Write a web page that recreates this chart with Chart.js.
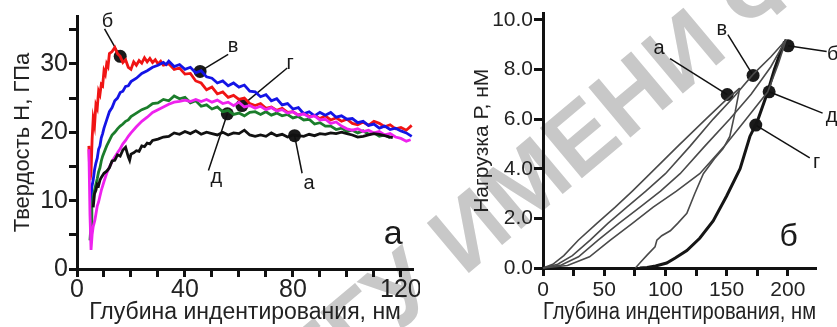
<!DOCTYPE html>
<html>
<head>
<meta charset="utf-8">
<script src="https://cdn.jsdelivr.net/npm/chart.js@4.4.1/dist/chart.umd.min.js"></script>
<style>
html, body { margin: 0; padding: 0; background: #fff; overflow: hidden; }
#wrap { position: relative; width: 837px; height: 327px; overflow: hidden; }
#wm { position: absolute; left: 464px; top: 277px; width: 0; height: 0; transform: rotate(-40deg); transform-origin: 0 0; z-index: 0; }
#wm span { position: absolute; top: -80px; font: bold 95px 'Liberation Sans', Arial, sans-serif; line-height: 95px; color: #c8c8c8; white-space: nowrap; }
#wm .pre { right: 0; }
#wm .post { left: 0; }
canvas { position: absolute; top: 0; z-index: 1; }
#hardness { left: 0; }
#loading { left: 420px; }
</style>
</head>
<body>
<div id="wrap">
  <div id="wm"><span class="pre">РЕПОЗИТОРИЙ ГГУ&nbsp;</span><span class="post">ИМЕНИ Ф. СКОРИНЫ</span></div>
  <canvas id="hardness" width="420" height="327" style="width:420px;height:327px"></canvas>
  <canvas id="loading" width="417" height="327" style="width:417px;height:327px"></canvas>
</div>
<script>
// ---- панель а: твердость от глубины ----
const depthA = [6, 6.5, 7, 7.5, 8, 8.5, 9, 10, 11, 12, 13, 14, 15, 16, 17, 18, 19, 19.5, 20, 21, 22, 23, 24, 25, 26, 27, 28, 30, 32, 34, 36, 38, 40, 42, 44, 46, 48, 50, 52, 54, 56, 58, 60, 62, 64, 66, 68, 70, 72, 74, 76, 78, 80, 82, 84, 86, 88, 90, 92, 94, 96, 98, 100, 102, 104, 106, 108, 110, 112, 114, 116, 117];
const hardA = [9, 11, 11.5, 12.4, 12.2, 13, 13.4, 14, 14.3, 14.8, 15.8, 15.9, 16.7, 16.5, 17.4, 17.8, 16.4, 15.9, 16.8, 17, 17.3, 17.2, 18, 17.9, 18.4, 18.3, 18.8, 19, 19.3, 19.4, 19.9, 19.7, 20.1, 19.8, 20.2, 19.7, 20, 19.8, 19.6, 20, 19.6, 19.9, 19.8, 20.3, 19.6, 19.4, 19.6, 19.4, 19.9, 19.5, 19.7, 19.3, 19.6, 19.5, 19.4, 19.7, 19.5, 19.8, 19.7, 19.9, 19.8, 20, 19.8, 19.6, 19.3, 19.4, 19.6, 19.8, 19.7, 19.5, 19.3, 19.2];

const depthB = [4.4, 4.8, 5.2, 5.6, 6, 6.5, 7, 7.5, 8, 8.5, 9, 9.5, 10, 10.5, 11, 11.5, 12, 13, 14, 15, 16, 17, 18, 19, 20, 21, 22, 23, 24, 25, 26, 27, 28, 29, 30, 31, 32, 34, 36, 38, 40, 42, 44, 46, 48, 50, 52, 54, 56, 58, 60, 62, 64, 66, 68, 70, 72, 74, 76, 78, 80, 82, 84, 86, 88, 90, 92, 94, 96, 98, 100, 102, 104, 106, 108, 110, 112, 114, 116, 118, 120, 122, 124];
const hardB = [18, 13, 14, 19, 22, 21, 24, 23.5, 26, 25.5, 27, 26.8, 29, 28.5, 30, 29.6, 31.5, 31.8, 32.4, 31.5, 31.1, 30.2, 30.6, 29.5, 29.2, 30.3, 29.8, 30.5, 30.1, 30.9, 30.3, 30.8, 30.2, 30.6, 30, 30.4, 29.8, 30, 29.2, 29.4, 28.5, 28.6, 27.5, 27.2, 26.2, 26.6, 25.6, 25.9, 25.1, 25.4, 24.8, 25, 24.2, 23.9, 24.2, 23.5, 23.7, 23.2, 23.5, 22.9, 23, 22.5, 22.8, 22.3, 22.5, 22, 22.4, 21.8, 22.1, 21.6, 21.9, 21.3, 21.1, 21.5, 21, 21.6, 21.3, 20.8, 21.1, 20.5, 20.7, 20.3, 21];

const depthV = [5, 5.5, 6, 6.5, 7, 7.5, 8, 8.5, 9, 9.5, 10, 11, 12, 13, 14, 15, 16, 17, 18, 19, 20, 22, 24, 26, 28, 30, 32, 33, 34, 36, 38, 40, 42, 44, 46, 48, 50, 52, 54, 56, 58, 60, 62, 64, 66, 68, 70, 72, 74, 76, 78, 80, 82, 84, 86, 88, 90, 92, 94, 96, 98, 100, 102, 104, 106, 108, 110, 112, 114, 116, 118, 120, 122, 124];
const hardV = [9, 12, 13, 14.5, 15.5, 16.2, 17.5, 18, 19.2, 19.8, 20.6, 21.8, 23, 23.6, 24.6, 25, 25.8, 26, 26.7, 26.8, 27.4, 27.9, 28.6, 29, 29.5, 29.8, 30.2, 29.9, 30.4, 29.6, 29.9, 29.2, 29.5, 28.7, 29, 28.1, 27.9, 27.2, 27.5, 26.8, 27.2, 26.6, 26.9, 26, 25.9, 25.2, 25.5, 24.6, 24.9, 24, 24.2, 23.4, 23.6, 22.7, 23, 22.4, 22.9, 22.5, 22.9, 22.2, 22.4, 21.9, 22, 21.4, 21.6, 21, 21.2, 20.6, 20.9, 20.4, 20.6, 20.2, 19.9, 19.4];

const depthG = [4.4, 4.8, 5.2, 5.6, 6, 6.6, 7, 7.5, 8, 8.4, 9, 10, 11, 12, 13, 14, 15, 16, 17, 18, 19, 20, 22, 24, 26, 28, 30, 32, 34, 36, 38, 40, 42, 44, 46, 48, 50, 52, 54, 56, 58, 60, 62, 64, 66, 68, 70, 72, 74, 76, 78, 80, 82, 84, 86, 88, 90, 92, 94, 96, 98, 100, 102, 104, 106, 108, 110, 112, 114, 116, 118, 120, 122, 123.6];
const hardG = [17.5, 8, 2.8, 5, 6.2, 7.1, 8, 9.2, 9.8, 10.5, 11.5, 12.8, 14, 14.9, 15.7, 16.4, 17, 17.6, 18.3, 18.8, 19.4, 19.9, 20.8, 21.6, 22.2, 22.9, 23.3, 23.7, 24.1, 24.4, 24.5, 24.7, 24.5, 24.8, 24.5, 24.8, 24.4, 24.7, 24.2, 24.4, 23.9, 24.4, 23.7, 23.9, 23.5, 23.8, 23.3, 23.6, 23.1, 23.3, 22.8, 23, 22.5, 22.7, 22.2, 22.4, 21.8, 21.9, 21.3, 21.5, 20.9, 20.5, 20.3, 20.5, 20.1, 20.3, 19.9, 20.1, 19.6, 19.8, 19.3, 19.1, 18.7, 18.9];

const depthD = [4.8, 5.2, 5.5, 6, 6.5, 7, 7.5, 8, 8.5, 9, 9.5, 10, 11, 12, 13, 14, 15, 16, 17, 18, 19, 20, 22, 24, 26, 28, 30, 32, 34, 36, 38, 40, 42, 44, 46, 48, 50, 52, 54, 56, 58, 60, 62, 64, 66, 68, 70, 72, 74, 76, 78, 80, 82, 84, 86, 88, 90, 92, 94, 96, 98, 100, 102, 104, 106, 108, 110, 112, 114, 116];
const hardD = [4.2, 6.5, 9, 10.5, 11.5, 12.4, 13.2, 14.2, 14.8, 15.8, 16.5, 17, 18, 18.8, 19.6, 20, 20.5, 20.9, 21.2, 21.6, 21.8, 22.3, 22.8, 23.3, 23.6, 24.2, 24.3, 24.8, 24.6, 25.3, 24.9, 25.1, 24.3, 24.6, 23.8, 24, 23.4, 23.7, 23, 23.2, 22.6, 22.8, 22.4, 22.9, 23, 22.6, 23, 22.5, 22.8, 22.4, 22.6, 22.1, 22.3, 21.8, 21.9, 21.2, 21.4, 20.9, 20.9, 20.4, 20.6, 20.1, 20.3, 19.9, 20.2, 19.7, 19.9, 19.4, 19.6, 19.2];

const hardTicksX = [0, 40, 80, 120];
const hardTicksY = [0, 10, 20, 30];
const hardMarkText = ['а', 'б', 'в', 'г', 'д'];
const hardMarkX = [80.6, 16, 45.6, 61.1, 55.7];
const hardMarkY = [19.5, 31.1, 28.9, 23.9, 22.7];
const hardLeadX = [83.4, 10.2, 56, 77.9, 48.7];
const hardLeadY = [14, 35.1, 31.4, 29.4, 14.4];
const hardLabelX = [86, 11.3, 57.8, 79, 51.6];
const hardLabelY = [12.5, 36.2, 32.6, 30.1, 13.4];

// ---- панель б: нагрузка от глубины ----
const loadDepthA = [0, 8, 17, 28.8, 44, 59, 73, 87.5, 110, 133, 148, 160.7];
const loadA = [0, 0.15, 0.5, 1.12, 1.8, 2.45, 3.1, 3.8, 4.9, 6.0, 6.7, 7.25];
const unloadDepthA = [160.7, 157, 152.6, 147, 140, 131, 124, 117.5, 110, 104, 97, 93, 91.5, 85, 80, 75.5];
const unloadA = [7.25, 6.3, 5.3, 4.8, 4.4, 3.8, 3.0, 2.2, 1.8, 1.5, 1.3, 1.12, 0.85, 0.52, 0.25, 0];
const loadDepthB = [0, 12, 24, 38.5, 53, 68.5, 84, 100, 120, 139, 156, 171.6, 186, 198.6];
const loadB = [0, 0.15, 0.5, 1.12, 1.8, 2.45, 3.1, 3.8, 4.9, 6.0, 6.9, 7.8, 8.5, 9.2];
const loadDepthV = [0, 15, 29, 45, 62, 79.3, 96, 112, 132, 152.6, 170, 186, 198.6];
const loadV = [0, 0.12, 0.45, 1.12, 1.8, 2.45, 3.1, 3.8, 4.9, 6.0, 7.0, 8.1, 9.2];
const loadDepthD = [0, 20, 38, 55, 73, 90, 109, 128, 148, 166, 183.6, 192, 198.6];
const loadD = [0, 0.1, 0.45, 1.12, 1.8, 2.45, 3.1, 3.8, 4.9, 6.0, 7.1, 8.2, 9.2];
const unloadDepthG = [198.6, 194.7, 189, 183.6, 175, 169, 161, 150, 139, 128, 117.5, 108, 101, 92, 85, 79];
const unloadG = [9.2, 8.79, 8.0, 7.1, 5.9, 5.3, 4.0, 2.9, 1.9, 1.2, 0.7, 0.4, 0.2, 0.08, 0.02, 0];

const loadTicksX = [0, 50, 100, 150, 200];
const loadMarkText = ['а', 'б', 'в', 'г', 'д'];
const loadMarkX = [150.5, 200.2, 171.6, 173.8, 184.7];
const loadMarkY = [6.99, 8.95, 7.76, 5.76, 7.1];
const loadLeadX = [103.8, 231.7, 151, 217.9, 228.4];
const loadLeadY = [8.44, 8.72, 9.4, 4.44, 6.24];
const loadLabelX = [94.8, 236.6, 146, 223.6, 235.8];
const loadLabelY = [8.84, 8.6, 9.6, 4.24, 6.12];

const FONT = "'Liberation Sans', Arial, sans-serif";

function xy(xs, ys) {
  return xs.map((x, i) => ({ x: x, y: ys[i] }));
}

function curve(xs, ys, color, width) {
  return { data: xy(xs, ys), borderColor: color, borderWidth: width, showLine: true, pointRadius: 0, tension: 0, clip: false };
}

// выноски: линия от точки к подписи
function leaders(mx, my, lx, ly) {
  return mx.map((x, i) => ({
    data: [{ x: x, y: my[i] }, { x: lx[i], y: ly[i] }],
    borderColor: '#111', borderWidth: 1.5, showLine: true, pointRadius: 0, clip: false
  }));
}

function dots(mx, my) {
  return { data: xy(mx, my), showLine: false, pointRadius: 6.5, pointBackgroundColor: '#1a1a1a', pointBorderWidth: 0, clip: false };
}

const textLabels = {
  id: 'textLabels',
  afterDatasetsDraw(chart, args, opts) {
    const { ctx } = chart;
    const sx = chart.scales.x, sy = chart.scales.y;
    ctx.save();
    ctx.fillStyle = '#1a1a1a';
    ctx.textAlign = 'center';
    ctx.textBaseline = 'middle';
    opts.items.forEach(it => {
      ctx.font = it.size + 'px ' + FONT;
      ctx.fillText(it.text, sx.getPixelForValue(it.x), sy.getPixelForValue(it.y));
    });
    ctx.restore();
  }
};

function axis(opts) {
  return {
    type: 'linear',
    min: opts.min, max: opts.max,
    afterFit(s) { if (opts.height) s.height = opts.height; if (opts.width) s.width = opts.width; },
    grid: { drawOnChartArea: false, drawTicks: true, tickLength: opts.tickLength, tickWidth: 3, tickColor: '#111' },
    border: { display: true, width: 3, color: '#111' },
    ticks: {
      stepSize: opts.step, padding: opts.pad, color: '#222', autoSkip: false, maxRotation: 0, includeBounds: false,
      font: { family: FONT, size: opts.fontSize },
      callback: opts.fmt
    },
    title: { display: true, text: opts.title, color: '#222', font: { family: FONT, size: opts.titleSize }, padding: opts.titlePad }
  };
}

function labelItems(texts, lx, ly, size) {
  return texts.map((t, i) => ({ text: t, x: lx[i], y: ly[i], size: size }));
}

new Chart(document.getElementById('hardness'), {
  type: 'scatter',
  data: {
    datasets: [
      curve(depthA, hardA, '#111111', 2.8),
      curve(depthG, hardG, '#ee22ee', 2.8),
      curve(depthD, hardD, '#1b7d2b', 2.8),
      curve(depthV, hardV, '#1414e6', 2.8),
      curve(depthB, hardB, '#f01414', 2.8),
      ...leaders(hardMarkX, hardMarkY, hardLeadX, hardLeadY),
      dots(hardMarkX, hardMarkY)
    ]
  },
  options: {
    responsive: false,
    animation: false,
    layout: { padding: { top: 15, right: 3, left: 0, bottom: 0 } },
    plugins: {
      legend: { display: false },
      tooltip: { enabled: false },
      textLabels: { items: labelItems(hardMarkText, hardLabelX, hardLabelY, 20).concat([{ text: 'а', x: 117.1, y: 5.1, size: 34 }]) }
    },
    scales: {
      x: axis({ min: 0, max: 124.5, step: 10, height: 58, tickLength: 8, pad: -2, fontSize: 25,
        fmt: v => hardTicksX.includes(v) ? String(v) : '',
        title: 'Глубина индентирования, нм', titleSize: 23, titlePad: { top: 0, bottom: 1 } }),
      y: axis({ min: 0, max: 37, step: 5, width: 77, tickLength: 8, pad: 1, fontSize: 25,
        fmt: v => hardTicksY.includes(v) ? String(v) : '',
        title: 'Твердость Н, ГПа', titleSize: 22, titlePad: { top: 10, bottom: 0 } })
    }
  },
  plugins: [textLabels]
});

new Chart(document.getElementById('loading'), {
  type: 'scatter',
  data: {
    datasets: [
      curve(loadDepthA, loadA, '#4a4a4a', 1.6),
      curve(unloadDepthA, unloadA, '#4a4a4a', 1.6),
      curve(loadDepthB, loadB, '#4a4a4a', 1.6),
      curve(loadDepthV, loadV, '#4a4a4a', 1.6),
      curve(loadDepthD, loadD, '#4a4a4a', 1.6),
      curve(unloadDepthG, unloadG, '#151515', 3),
      ...leaders(loadMarkX, loadMarkY, loadLeadX, loadLeadY),
      dots(loadMarkX, loadMarkY)
    ]
  },
  options: {
    responsive: false,
    animation: false,
    layout: { padding: { top: 12, right: 21, left: 0, bottom: 0 } },
    plugins: {
      legend: { display: false },
      tooltip: { enabled: false },
      textLabels: { items: labelItems(loadMarkText, loadLabelX, loadLabelY, 20).concat([{ text: 'б', x: 200.7, y: 1.24, size: 32 }]) }
    },
    scales: {
      x: axis({ min: 0, max: 223, step: 25, height: 59, tickLength: 8, pad: 2, fontSize: 21,
        fmt: v => loadTicksX.includes(v) ? String(v) : '',
        title: 'Глубина индентирования, нм', titleSize: 23, titlePad: { top: 0, bottom: 1 } }),
      y: axis({ min: 0, max: 10.25, step: 2, width: 123, tickLength: 9, pad: 1, fontSize: 21,
        fmt: v => v.toFixed(1),
        title: 'Нагрузка Р, нМ', titleSize: 21, titlePad: { top: 50, bottom: 0 } })
    }
  },
  plugins: [textLabels]
});
</script>
</body>
</html>
